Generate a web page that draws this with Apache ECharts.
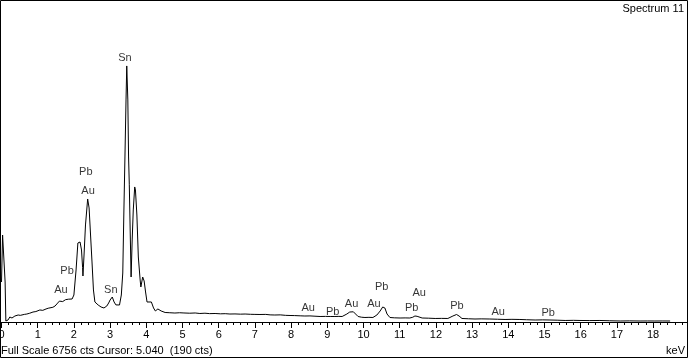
<!DOCTYPE html>
<html>
<head>
<meta charset="utf-8">
<script src="https://cdn.jsdelivr.net/npm/echarts@6/dist/echarts.min.js"></script>
<style>
html,body{margin:0;padding:0;background:#fff;}
#chart{width:689px;height:359px;}
</style>
</head>
<body>
<div id="chart"></div>
<script>
// Spectrum: energy (keV) and counts
var energies = [0.00,0.03,0.07,0.10,0.12,0.18,0.23,0.29,0.33,0.37,0.42,0.46,0.52,0.57,0.63,0.70,0.78,0.87,0.95,1.06,1.14,1.23,1.29,1.34,1.42,1.48,1.53,1.56,1.60,1.64,1.69,1.73,1.77,1.81,1.85,1.89,1.95,2.00,2.06,2.11,2.17,2.21,2.24,2.25,2.28,2.32,2.38,2.42,2.46,2.50,2.54,2.58,2.63,2.67,2.71,2.75,2.79,2.83,2.87,2.91,2.96,3.00,3.06,3.11,3.16,3.20,3.26,3.31,3.35,3.38,3.41,3.44,3.46,3.47,3.49,3.51,3.53,3.56,3.58,3.61,3.64,3.68,3.70,3.74,3.78,3.83,3.85,3.90,3.94,3.98,4.02,4.07,4.14,4.20,4.25,4.32,4.41,4.52,4.65,4.79,4.92,5.04,5.20,5.35,5.48,5.62,5.75,5.90,6.05,6.18,6.31,6.45,6.60,6.73,6.88,7.00,7.14,7.30,7.42,7.55,7.70,7.85,7.97,8.10,8.25,8.38,8.52,8.66,8.80,8.95,9.08,9.21,9.32,9.41,9.54,9.62,9.67,9.72,9.77,9.85,9.95,10.04,10.15,10.26,10.37,10.46,10.53,10.59,10.65,10.73,10.85,11.01,11.15,11.28,11.36,11.42,11.48,11.53,11.62,11.80,11.98,12.15,12.33,12.47,12.57,12.64,12.72,12.90,13.08,13.25,13.49,13.70,13.91,14.10,14.32,14.50,14.74,14.95,15.15,15.35,15.57,15.80,15.98,16.25,16.53,16.80,17.09,17.35,17.64,17.85,18.05,18.25,18.47];
var counts   = [842,1831,1831,842,21,42,105,84,110,126,115,147,140,168,160,168,185,210,220,253,245,274,290,316,310,337,380,421,440,463,430,442,470,505,480,463,484,568,1095,1663,1684,1516,1150,968,1410,2042,2589,2400,1831,1263,674,421,390,358,340,316,305,295,310,337,400,463,526,421,360,337,358,568,1031,2294,3473,4673,5389,5389,4673,3473,2900,1726,947,1726,2358,2842,2779,2252,1368,884,737,947,863,632,421,379,421,295,232,274,232,200,195,189,195,190,185,190,179,185,176,179,172,175,168,170,165,168,162,160,158,160,150,147,150,140,137,135,130,126,128,122,116,118,116,116,118,116,168,210,232,215,189,116,100,95,98,95,147,232,316,295,168,95,88,84,86,84,100,126,120,105,84,80,74,76,74,126,158,126,74,68,63,66,63,58,53,56,53,48,42,45,42,38,32,35,32,30,32,26,21,24,21,22,21,22,21];

// Peak identification labels
var peakNames  = ["Sn","Pb","Au","Pb","Au","Sn","Au","Pb","Au","Au","Pb","Au","Pb","Pb","Au","Pb"];
var peakEnergy = [3.41,2.33,2.39,1.81,1.64,3.02,8.47,9.15,9.67,10.29,10.50,11.54,11.33,12.58,13.72,15.10];
var peakCounts = [5557,3158,2758,1074,674,674,290,220,390,390,737,610,290,335,220,200];

var xTickLabels = ["0","1","2","3","4","5","6","7","8","9","10","11","12","13","14","15","16","17","18"];
var fullScale = 6756;

var chart = echarts.init(document.getElementById('chart'), null, {renderer:'canvas'});
var font = '"Liberation Sans", Arial, sans-serif';
var line = energies.map(function(e,i){return [e, counts[i]];});
var pts = peakNames.map(function(n,i){return {name:n, value:[peakEnergy[i], peakCounts[i]]};});

chart.setOption({
  animation:false,
  backgroundColor:'#fff',
  grid:{left:1.5, top:1, width:686, height:321, containLabel:false, outerBoundsMode:'none'},
  xAxis:{
    type:'value', min:0, max:18.95, interval:1,
    axisLine:{show:true, onZero:false, lineStyle:{color:'#000', width:1}},
    axisTick:{show:true, length:6, lineStyle:{color:'#000'}},
    minorTick:{show:true, splitNumber:5, length:3, lineStyle:{color:'#000'}},
    splitLine:{show:false},
    axisLabel:{color:'#000', fontSize:11, fontFamily:font, margin:7, hideOverlap:false,
      formatter:function(v){var i=Math.round(v); return xTickLabels[i]!==undefined && Math.abs(v-i)<1e-6 ? xTickLabels[i] : '';}}
  },
  yAxis:{type:'value', min:0, max:fullScale, show:false, splitLine:{show:false}},
  series:[
    {type:'line', data:line, showSymbol:false, symbol:'none', smooth:false,
     lineStyle:{color:'#000', width:1}, z:2},
    {type:'scatter', data:pts, symbolSize:0, z:3,
     label:{show:true, position:'inside', formatter:'{b}', color:'#000', fontSize:11, fontFamily:font}}
  ],
  graphic:[
    {type:'rect', shape:{x:0.5, y:0.5, width:687, height:357}, style:{fill:null, stroke:'#000', lineWidth:1}, z:10},
    {type:'text', right:5, top:3, style:{text:'Spectrum 11', fill:'#000', font:'11px '+font}},
    {type:'text', left:1, top:345, style:{text:'Full Scale 6756 cts Cursor: 5.040  (190 cts)', fill:'#000', font:'11px '+font}},
    {type:'text', right:4, top:345, style:{text:'keV', fill:'#000', font:'11px '+font}}
  ]
});
</script>
</body>
</html>
